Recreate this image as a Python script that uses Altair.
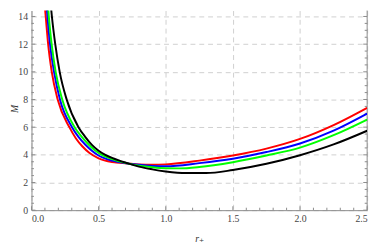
import altair as alt
import pandas as pd

# ---- data ----
red_r = [0.097, 0.106, 0.124, 0.151, 0.195, 0.282, 0.33, 0.38, 0.43, 0.5, 0.6, 0.715, 0.8, 0.9, 1.0, 1.25, 1.5, 1.75, 2.0, 2.25, 2.5]
red_M = [15.0, 14.0, 12.0, 10.0, 8.0, 6.0, 5.2, 4.6, 4.15, 3.75, 3.48, 3.38, 3.31, 3.28, 3.31, 3.58, 3.95, 4.45, 5.15, 6.15, 7.40]

blue_r = [0.111, 0.119, 0.138, 0.168, 0.212, 0.302, 0.35, 0.4, 0.45, 0.5, 0.6, 0.715, 0.8, 0.9, 1.0, 1.25, 1.5, 1.75, 2.0, 2.25, 2.5]
blue_M = [15.0, 14.0, 12.0, 10.0, 8.0, 6.0, 5.3, 4.75, 4.3, 3.95, 3.58, 3.38, 3.28, 3.2, 3.17, 3.4, 3.72, 4.2, 4.82, 5.75, 6.98]

green_r = [0.121, 0.129, 0.150, 0.180, 0.229, 0.321, 0.37, 0.42, 0.47, 0.52, 0.6, 0.715, 0.8, 0.9, 1.0, 1.1, 1.25, 1.5, 1.75, 2.0, 2.25, 2.5]
green_M = [15.0, 14.0, 12.0, 10.0, 8.0, 6.0, 5.35, 4.8, 4.35, 4.02, 3.7, 3.38, 3.22, 3.1, 3.03, 3.02, 3.12, 3.47, 3.95, 4.52, 5.42, 6.55]

black_r = [0.142, 0.152, 0.177, 0.210, 0.262, 0.350, 0.4, 0.45, 0.5, 0.55, 0.6, 0.65, 0.715, 0.8, 0.9, 1.0, 1.15, 1.3, 1.5, 1.75, 2.0, 2.25, 2.5]
black_M = [15.0, 14.0, 12.0, 10.0, 8.0, 6.0, 5.3, 4.72, 4.3, 4.0, 3.78, 3.6, 3.4, 3.15, 2.95, 2.8, 2.68, 2.68, 2.9, 3.35, 3.97, 4.75, 5.74]

series = [("red", red_r, red_M, "#ff0000"),
          ("blue", blue_r, blue_M, "#0000ff"),
          ("green", green_r, green_M, "#00ff00"),
          ("black", black_r, black_M, "#000000")]

x_major = [0.0, 0.5, 1.0, 1.5, 2.0, 2.5]
x_minor = [0.1, 0.2, 0.3, 0.4, 0.6, 0.7, 0.8, 0.9, 1.1, 1.2, 1.3, 1.4,
           1.6, 1.7, 1.8, 1.9, 2.1, 2.2, 2.3, 2.4]
y_major = [0, 2, 4, 6, 8, 10, 12, 14]
y_minor = [0.5, 1, 1.5, 2.5, 3, 3.5, 4.5, 5, 5.5, 6.5, 7, 7.5, 8.5, 9, 9.5,
           10.5, 11, 11.5, 12.5, 13, 13.5]

W, H = 343, 204
Y_TOP = 14.43
FONT = "'Liberation Serif', 'Times New Roman', 'DejaVu Serif', serif"
FRAME = "#8a8a8a"

xscale = alt.Scale(domain=[0, 2.5], nice=False, zero=False)
yscale = alt.Scale(domain=[0, Y_TOP], nice=False, zero=False)

xaxis = alt.Axis(values=x_major, format=".1f", ticks=False, domainColor=FRAME,
                 labelFont=FONT, labelFontSize=10, labelColor="#444444", labelPadding=4,
                 grid=True, gridDash=[5, 4], gridColor="#cfcfcf", gridWidth=1,
                 title="r₊", titleFont=FONT, titleFontSize=10, titleFontStyle="italic",
                 titleFontWeight="normal", titleColor="#333333",
                 titleBaseline="alphabetic", titleY=32)
yaxis = alt.Axis(values=y_major, format="d", ticks=False, domainColor=FRAME,
                 labelFont=FONT, labelFontSize=10, labelColor="#444444", labelPadding=4,
                 grid=True, gridDash=[5, 4], gridColor="#cfcfcf", gridWidth=1,
                 title="M", titleFont=FONT, titleFontSize=10, titleFontStyle="italic",
                 titleFontWeight="normal", titleColor="#333333", titleAngle=270,
                 titleBaseline="middle", titleX=-17, titleY=100)

layers = []
for name, rs, ms, col in series:
    df = pd.DataFrame({"r": rs, "M": ms})
    layers.append(
        alt.Chart(df).mark_line(color=col, strokeWidth=2, interpolate="monotone", clip=True)
        .encode(x=alt.X("r:Q", scale=xscale, axis=xaxis),
                y=alt.Y("M:Q", scale=yscale, axis=yaxis))
    )

bottom_major = alt.Chart(pd.DataFrame({"v": x_major})).mark_rule(color=FRAME).encode(
    x=alt.X("v:Q", scale=xscale, axis=xaxis), y=alt.value(H), y2=alt.value(H - 4))
bottom_minor = alt.Chart(pd.DataFrame({"v": x_minor})).mark_rule(color=FRAME).encode(
    x=alt.X("v:Q", scale=xscale, axis=xaxis), y=alt.value(H), y2=alt.value(H - 2.5))
left_major = alt.Chart(pd.DataFrame({"v": y_major})).mark_rule(color=FRAME).encode(
    y=alt.Y("v:Q", scale=yscale, axis=yaxis), x=alt.value(0), x2=alt.value(4))
left_minor = alt.Chart(pd.DataFrame({"v": y_minor})).mark_rule(color=FRAME).encode(
    y=alt.Y("v:Q", scale=yscale, axis=yaxis), x=alt.value(0), x2=alt.value(2.5))
right_major = alt.Chart(pd.DataFrame({"v": y_major})).mark_rule(color=FRAME).encode(
    y=alt.Y("v:Q", scale=yscale, axis=yaxis), x=alt.value(W), x2=alt.value(W - 4))
right_minor = alt.Chart(pd.DataFrame({"v": y_minor})).mark_rule(color=FRAME).encode(
    y=alt.Y("v:Q", scale=yscale, axis=yaxis), x=alt.value(W), x2=alt.value(W - 2.5))
right_frame = alt.Chart(pd.DataFrame({"v": [0]})).mark_rule(color=FRAME).encode(
    x=alt.value(W), y=alt.value(0), y2=alt.value(H))

chart = alt.layer(
    bottom_major, bottom_minor, left_major, left_minor, right_major, right_minor,
    right_frame, *layers
).properties(
    width=W, height=H,
    autosize=alt.AutoSizeParams(type="none"),
    padding={"left": 24, "top": 0, "right": 7, "bottom": 33},
    background="white"
).configure_view(stroke=None).configure_axis(
    labelFont=FONT, titleFont=FONT
)

chart.save("out.html", embed_options={"renderer": "svg", "actions": False})
